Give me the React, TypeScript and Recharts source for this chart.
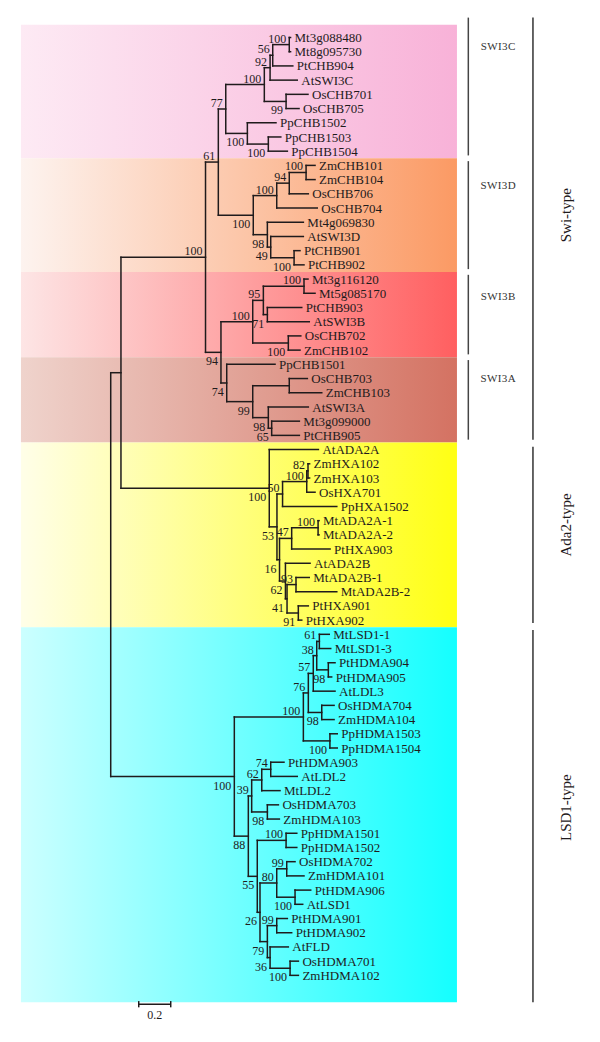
import React from "react";
import { ScatterChart, Scatter, XAxis, YAxis, ReferenceLine, ReferenceArea } from "recharts";

// leaves, top to bottom; depth = distance from root (scale bar 0.2)
const leafNames = [
  "Mt3g088480", "Mt8g095730", "PtCHB904", "AtSWI3C", "OsCHB701", "OsCHB705", "PpCHB1502", "PpCHB1503", "PpCHB1504",
  "ZmCHB101", "ZmCHB104", "OsCHB706", "OsCHB704", "Mt4g069830", "AtSWI3D", "PtCHB901", "PtCHB902",
  "Mt3g116120", "Mt5g085170", "PtCHB903", "AtSWI3B", "OsCHB702", "ZmCHB102",
  "PpCHB1501", "OsCHB703", "ZmCHB103", "AtSWI3A", "Mt3g099000", "PtCHB905",
  "AtADA2A", "ZmHXA102", "ZmHXA103", "OsHXA701", "PpHXA1502", "MtADA2A-1", "MtADA2A-2", "PtHXA903",
  "AtADA2B", "MtADA2B-1", "MtADA2B-2", "PtHXA901", "PtHXA902",
  "MtLSD1-1", "MtLSD1-3", "PtHDMA904", "PtHDMA905", "AtLDL3", "OsHDMA704", "ZmHDMA104", "PpHDMA1503", "PpHDMA1504",
  "PtHDMA903", "AtLDL2", "MtLDL2", "OsHDMA703", "ZmHDMA103", "PpHDMA1501", "PpHDMA1502", "OsHDMA702", "ZmHDMA101",
  "PtHDMA906", "AtLSD1", "PtHDMA901", "PtHDMA902", "AtFLD", "OsHDMA701", "ZmHDMA102",
];
const leafDepths = [
  1.124, 1.124, 1.138, 1.166, 1.233, 1.177, 1.033, 1.063, 1.104,
  1.277, 1.277, 1.235, 1.291, 1.204, 1.204, 1.183, 1.208,
  1.233, 1.277, 1.194, 1.241, 1.188, 1.183,
  1.027, 1.229, 1.319, 1.235, 1.179, 1.179,
  1.298, 1.243, 1.243, 1.277, 1.413, 1.302, 1.302, 1.371,
  1.246, 1.241, 1.413, 1.235, 1.194,
  1.366, 1.375, 1.402, 1.381, 1.402, 1.396, 1.396, 1.416, 1.416,
  1.083, 1.166, 1.058, 1.048, 1.054, 1.163, 1.163, 1.152, 1.208,
  1.25, 1.2, 1.104, 1.131, 1.11, 1.173, 1.173,
];

// internal nodes
const nodeIds = [
  "root", "SA", "SW", "C", "n8", "n5", "n3", "n2", "n1", "n4", "n7", "n6",
  "n15", "n11", "n10", "n9", "n14", "n13", "n12",
  "BA", "n22", "s1", "n17", "s2", "n21", "n27", "n26", "n23", "n25", "n24",
  "AD", "b1", "a3", "a2", "a1", "b2", "a5", "a4", "g2", "g1", "a6", "a8",
  "L", "l7", "l5", "l4", "l3", "l1", "l2", "q1", "l6",
  "m5", "m4", "m2", "m1", "m3", "m6", "pp", "m7", "p3", "p1", "p2", "p7", "p4", "p6", "p5",
];
const nodeKids = [
  ["SA", "L"], ["SW", "AD"], ["C", "BA"], ["n8", "n15"], ["n5", "n7"], ["n3", "n4"], ["n2", "AtSWI3C"],
  ["n1", "PtCHB904"], ["Mt3g088480", "Mt8g095730"], ["OsCHB701", "OsCHB705"], ["PpCHB1502", "n6"], ["PpCHB1503", "PpCHB1504"],
  ["n11", "n14"], ["n10", "OsCHB704"], ["n9", "OsCHB706"], ["ZmCHB101", "ZmCHB104"], ["Mt4g069830", "n13"],
  ["AtSWI3D", "n12"], ["PtCHB901", "PtCHB902"],
  ["n22", "n27"], ["s1", "n21"], ["n17", "s2"], ["Mt3g116120", "Mt5g085170"], ["PtCHB903", "AtSWI3B"],
  ["OsCHB702", "ZmCHB102"], ["PpCHB1501", "n26"], ["n23", "n25"], ["OsCHB703", "ZmCHB103"], ["AtSWI3A", "n24"],
  ["Mt3g099000", "PtCHB905"],
  ["AtADA2A", "b1"], ["a3", "b2"], ["a2", "PpHXA1502"], ["a1", "OsHXA701"], ["ZmHXA102", "ZmHXA103"], ["a5", "g2"],
  ["a4", "PtHXA903"], ["MtADA2A-1", "MtADA2A-2"], ["AtADA2B", "g1"], ["a6", "a8"], ["MtADA2B-1", "MtADA2B-2"],
  ["PtHXA901", "PtHXA902"],
  ["l7", "m5"], ["l5", "l6"], ["l4", "q1"], ["l3", "AtLDL3"], ["l1", "l2"], ["MtLSD1-1", "MtLSD1-3"],
  ["PtHDMA904", "PtHDMA905"], ["OsHDMA704", "ZmHDMA104"], ["PpHDMA1503", "PpHDMA1504"],
  ["m4", "m6"], ["m2", "m3"], ["m1", "MtLDL2"], ["PtHDMA903", "AtLDL2"], ["OsHDMA703", "ZmHDMA103"], ["pp", "m7"],
  ["PpHDMA1501", "PpHDMA1502"], ["p3", "p7"], ["p1", "p2"], ["OsHDMA702", "ZmHDMA101"], ["PtHDMA906", "AtLSD1"],
  ["p4", "p6"], ["PtHDMA901", "PtHDMA902"], ["AtFLD", "p5"], ["OsHDMA701", "ZmHDMA102"],
];
const nodeDepths = [
  0, 0.064, 0.5925, 0.6725, 0.719, 0.96, 0.996, 1.0125, 1.116, 1.096, 0.854, 0.985,
  0.891, 1.0375, 1.116, 1.221, 0.979, 1.0, 1.146,
  0.689, 0.8875, 0.954, 1.208, 0.979, 1.11, 0.725, 0.8875, 1.116, 0.985, 1.006,
  0.991, 1.039, 1.074, 1.225, 1.233, 1.055, 1.131, 1.296, 1.092, 1.102, 1.158, 1.1725,
  0.7725, 1.204, 1.235, 1.266, 1.2875, 1.304, 1.36, 1.319, 1.37,
  0.86, 0.881, 0.944, 1.0, 0.979, 0.916, 1.096, 0.933, 1.0375, 1.1, 1.152, 0.979, 1.0375, 0.996, 1.121,
];
const nodeSupport = [
  null, null, 100, 61, 77, 100, 92, 56, 100, 99, 100, 100,
  100, 100, 94, 100, 98, 49, 100,
  94, 100, 95, 100, 71, 100, 74, 99, null, 98, 65,
  100, 53, 50, 100, 82, 16, 47, 100, 62, 41, 93, 91,
  100, 100, 76, 57, 38, 61, 98, 98, 100,
  88, 39, 62, 74, 98, 55, 100, 26, 80, 99, 100, 79, 99, 36, 100,
];
// bootstrap values printed under their branch instead of above it
const supportBelow = [
  "n4", "n7", "n6", "n15", "n14", "n13", "n12", "BA", "s2", "n21", "n27", "n26", "n25", "n24",
  "AD", "b1", "b2", "g2", "g1", "a8", "L", "l2", "q1", "l6", "m5", "m3", "m6", "m7", "p2", "p7", "p6", "p5",
];

// shaded bands (rows), colours left -> right
const bandEdges = [-0.9, 8.5, 16.5, 22.5, 28.5, 41.5, 67.9];
const bandLeft = ["#fdeaf4", "#fdf3ef", "#fde5e5", "#efd3cc", "#fffee8", "#ccffff"];
const bandRight = ["#f8b2d8", "#fb9a64", "#ff5f60", "#d47262", "#ffff14", "#14ffff"];

const cladeNames = ["SWI3C", "SWI3D", "SWI3B", "SWI3A"];
const cladeSpans = [[-1.4, 8.3], [8.7, 16.3], [16.7, 22.3], [22.7, 28.3]];
const cladeLabelRows = [0.6, 10.4, 18.2, 24.0];
const typeNames = ["Swi-type", "Ada2-type", "LSD1-type"];
const typeSpans = [[-1.4, 28.3], [28.8, 41.2], [41.7, 67.9]];
const typeLabelRows = [12.5, 34.3, 54.2];

const scaleBarStart = 0.175;
const scaleBarLength = 0.2;

// chart frame
const W = 600;
const H = 1042;
const X_MIN = -0.692;
const X_MAX = X_MIN + W / 160;
const Y_MIN = -2.639;
const Y_MAX = Y_MIN + H / 14.21;
const BAND_X = [-0.561, 2.164];
const CLADE_X = 2.235;
const CLADE_LABEL_X = 2.422;
const TYPE_X = 2.639;
const TYPE_LABEL_X = 2.846;
const SCALE_ROW = 68.03;

const INK = "#1f1b1c";
const SERIF = "'Liberation Serif', 'DejaVu Serif', serif";

// ---- layout ----
const depthOf: Record<string, number> = {};
const rowOf: Record<string, number> = {};
const kidsOf: Record<string, string[]> = {};
leafNames.forEach((n, i) => {
  depthOf[n] = leafDepths[i];
  rowOf[n] = i;
});
nodeIds.forEach((id, i) => {
  depthOf[id] = nodeDepths[i];
  kidsOf[id] = nodeKids[i];
});
function rowFor(id: string): number {
  if (id in rowOf) return rowOf[id];
  const k = kidsOf[id];
  const r = (rowFor(k[0]) + rowFor(k[k.length - 1])) / 2;
  rowOf[id] = r;
  return r;
}
nodeIds.forEach(rowFor);

const branches: { x1: number; y1: number; x2: number; y2: number }[] = [];
nodeIds.forEach((id) => {
  const k = kidsOf[id];
  const x = depthOf[id];
  branches.push({ x1: x, y1: rowOf[k[0]], x2: x, y2: rowOf[k[k.length - 1]] });
  k.forEach((c) => branches.push({ x1: x, y1: rowOf[c], x2: depthOf[c], y2: rowOf[c] }));
});

const leafPoints = leafNames.map((n, i) => ({ x: leafDepths[i], y: i, name: n }));
const supportPoints = nodeIds
  .map((id, i) => ({ x: nodeDepths[i], y: rowOf[id], value: nodeSupport[i], below: supportBelow.includes(id) }))
  .filter((p) => p.value !== null);
const cladeLabelPoints = cladeNames.map((n, i) => ({ x: CLADE_LABEL_X, y: cladeLabelRows[i], name: n }));
const typeLabelPoints = typeNames.map((n, i) => ({ x: TYPE_LABEL_X, y: typeLabelRows[i], name: n }));
const scaleLabelPoints = [{ x: scaleBarStart + scaleBarLength / 2, y: SCALE_ROW, name: String(scaleBarLength) }];

// eslint-disable-next-line @typescript-eslint/no-explicit-any
const LeafLabel = ({ cx, cy, payload }: any) => (
  <text x={cx + 4} y={cy} dy="0.35em" fontSize={13} fontFamily={SERIF} fill={INK}>
    {payload.name}
  </text>
);

// eslint-disable-next-line @typescript-eslint/no-explicit-any
const SupportLabel = ({ cx, cy, payload }: any) => (
  <text x={cx - 3} y={payload.below ? cy + 13 : cy - 2} textAnchor="end" fontSize={12} fontFamily={SERIF} fill={INK}>
    {payload.value}
  </text>
);

// eslint-disable-next-line @typescript-eslint/no-explicit-any
const CladeLabel = ({ cx, cy, payload }: any) => (
  <text x={cx} y={cy} dy="0.35em" textAnchor="middle" fontSize={11} letterSpacing={0.4} fontFamily={SERIF} fill="#333">
    {payload.name}
  </text>
);

// eslint-disable-next-line @typescript-eslint/no-explicit-any
const TypeLabel = ({ cx, cy, payload }: any) => (
  <text
    x={cx}
    y={cy}
    dy="0.35em"
    textAnchor="middle"
    fontSize={15}
    fontFamily={SERIF}
    fill={INK}
    transform={`rotate(-90 ${cx} ${cy})`}
  >
    {payload.name}
  </text>
);

// eslint-disable-next-line @typescript-eslint/no-explicit-any
const ScaleLabel = ({ cx, cy, payload }: any) => (
  <text x={cx} y={cy + 15} textAnchor="middle" fontSize={12} fontFamily={SERIF} fill={INK}>
    {payload.name}
  </text>
);

export default function App() {
  return (
    <div style={{ position: "absolute", left: 0, top: 0, width: W, height: H, background: "#fff" }}>
      <ScatterChart width={W} height={H} margin={{ top: 0, right: 0, bottom: 0, left: 0 }}>
        <defs>
          {bandLeft.map((c, i) => (
            <linearGradient key={i} id={`band${i}`} x1="0" y1="0" x2="1" y2="0">
              <stop offset="0%" stopColor={c} />
              <stop offset="100%" stopColor={bandRight[i]} />
            </linearGradient>
          ))}
        </defs>
        <XAxis type="number" dataKey="x" domain={[X_MIN, X_MAX]} allowDataOverflow hide />
        <YAxis type="number" dataKey="y" domain={[Y_MIN, Y_MAX]} allowDataOverflow reversed hide />

        {bandLeft.map((_, i) => (
          <ReferenceArea
            key={`band${i}`}
            x1={BAND_X[0]}
            x2={BAND_X[1]}
            y1={bandEdges[i]}
            y2={bandEdges[i + 1]}
            fill={`url(#band${i})`}
            fillOpacity={1}
            stroke="none"
            ifOverflow="visible"
          />
        ))}

        {branches.map((b, i) => (
          <ReferenceLine
            key={`br${i}`}
            segment={[{ x: b.x1, y: b.y1 }, { x: b.x2, y: b.y2 }]}
            stroke={INK}
            strokeWidth={1.5}
            strokeLinecap="square"
            ifOverflow="visible"
          />
        ))}

        {cladeSpans.map((s, i) => (
          <ReferenceLine
            key={`cl${i}`}
            segment={[{ x: CLADE_X, y: s[0] }, { x: CLADE_X, y: s[1] }]}
            stroke="#444"
            strokeWidth={1.5}
            ifOverflow="visible"
          />
        ))}
        {typeSpans.map((s, i) => (
          <ReferenceLine
            key={`ty${i}`}
            segment={[{ x: TYPE_X, y: s[0] }, { x: TYPE_X, y: s[1] }]}
            stroke="#333"
            strokeWidth={1.5}
            ifOverflow="visible"
          />
        ))}

        <ReferenceLine
          segment={[{ x: scaleBarStart, y: SCALE_ROW }, { x: scaleBarStart + scaleBarLength, y: SCALE_ROW }]}
          stroke={INK}
          strokeWidth={1.5}
          ifOverflow="visible"
        />
        {[scaleBarStart, scaleBarStart + scaleBarLength].map((x, i) => (
          <ReferenceLine
            key={`sb${i}`}
            segment={[{ x, y: SCALE_ROW - 0.22 }, { x, y: SCALE_ROW + 0.22 }]}
            stroke={INK}
            strokeWidth={1.5}
            ifOverflow="visible"
          />
        ))}

        <Scatter data={leafPoints} shape={LeafLabel} isAnimationActive={false} />
        <Scatter data={supportPoints} shape={SupportLabel} isAnimationActive={false} />
        <Scatter data={cladeLabelPoints} shape={CladeLabel} isAnimationActive={false} />
        <Scatter data={typeLabelPoints} shape={TypeLabel} isAnimationActive={false} />
        <Scatter data={scaleLabelPoints} shape={ScaleLabel} isAnimationActive={false} />
      </ScatterChart>
    </div>
  );
}
